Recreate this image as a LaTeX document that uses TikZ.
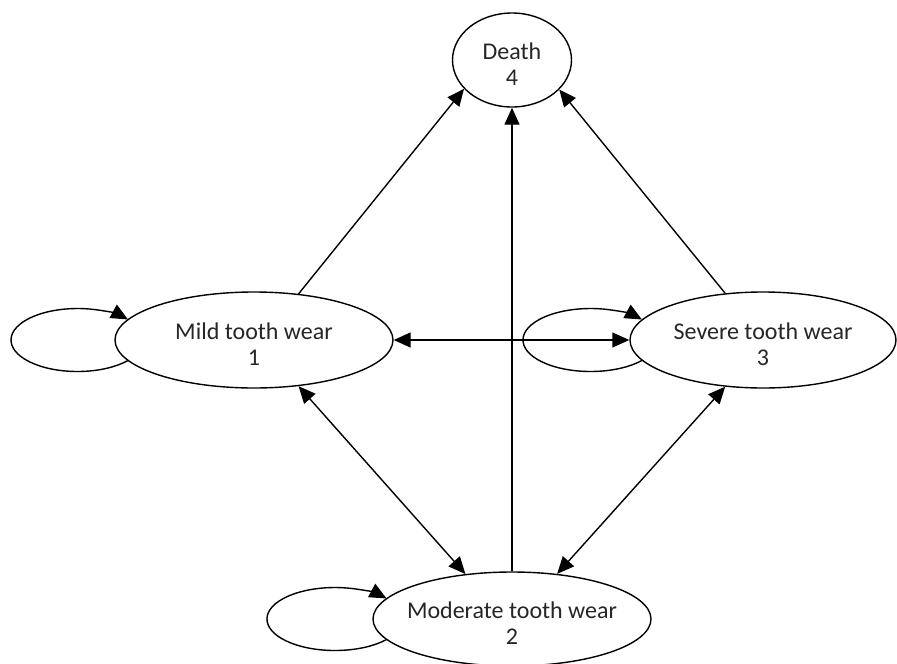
\documentclass[tikz,border=0pt]{standalone}
\usepackage{fontspec}
\setmainfont{Carlito}
\usetikzlibrary{shapes.geometric, arrows.meta, calc}
\begin{document}
\begin{tikzpicture}[x=1pt, y=1pt,
  state/.style={draw, ellipse, fill=white, line width=1.4pt, inner sep=0pt},
  statetext/.style={inner sep=0pt, align=center, text=black!85,
    font=\fontsize{24}{26}\selectfont},
  arr/.style={line width=1.4pt, -{Triangle[length=17pt, width=15pt]}},
  biarr/.style={line width=1.4pt, {Triangle[length=17pt, width=15pt]}-{Triangle[length=17pt, width=15pt]}},
]
\useasboundingbox (0,0) rectangle (897,-664);

% states
\node[state, minimum width=119pt, minimum height=94pt] (death) at (512,-60) {};
\node[state, minimum width=278pt, minimum height=96pt] (mild) at (254,-340) {};
\node[state, minimum width=266pt, minimum height=96pt] (severe) at (763,-340) {};
\node[state, minimum width=278pt, minimum height=94pt] (moderate) at (512,-619) {};

% state labels, set a little below each centre
\node[statetext] (deathtext) at ([yshift=-4.5pt]death.center) {Death\\4};
\node[statetext] (mildtext) at ([yshift=-4.5pt]mild.center) {Mild tooth wear\\1};
\node[statetext] (severetext) at ([yshift=-4.5pt]severe.center) {Severe tooth wear\\3};
\node[statetext] (moderatetext) at ([yshift=-4.5pt]moderate.center) {Moderate tooth wear\\2};

% self transitions
\draw[arr] ($(mild.center)+(-126,-20.5)$)
  arc[start angle=-40.6, end angle=-319.4, x radius=66.5pt, y radius=31.5pt];
\draw[arr] ($(severe.center)+(-121.1,-20.5)$)
  arc[start angle=-40.6, end angle=-319.4, x radius=67.6pt, y radius=31.5pt];
\draw[arr] ($(moderate.center)+(-125.4,-20.5)$)
  arc[start angle=-40.6, end angle=-319.4, x radius=68pt, y radius=31.5pt];

% transitions to death
\draw[arr] (mild.46.3) -- (death.211.1);
\draw[arr] (severe.129.6) -- (death.328.3);
\draw[arr] (moderate.north) -- (death.south);

% transitions between wear states
\draw[biarr] (mild.east) -- (severe.west);
\draw[biarr] (mild.314.4) -- (moderate.136.2);
\draw[biarr] (severe.231) -- (moderate.45.6);
\end{tikzpicture}
\end{document}
